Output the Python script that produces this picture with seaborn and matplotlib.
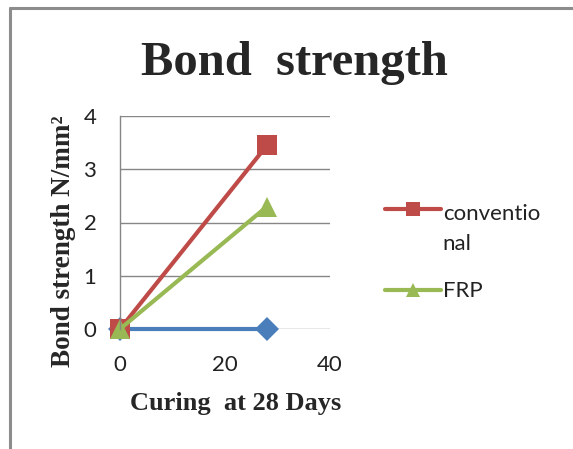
import matplotlib
matplotlib.use("Agg")
import matplotlib.pyplot as plt
from matplotlib.lines import Line2D
from matplotlib.legend_handler import HandlerLine2D
import seaborn as sns
import pandas as pd

# Curing time (days) and bond strength (N/mm²) for each specimen series
days = [0, 28]
control = [0.0, 0.0]
conventional = [0.0, 3.45]
frp = [0.0, 2.3]

x_ticks = [0, 20, 40]
y_ticks = [0, 1, 2, 3, 4]

sns.set_theme(style="white")
plt.rcParams["font.family"] = ["Lato", "DejaVu Sans"]


class FirstLineHandler(HandlerLine2D):
    """Legend handler that lifts the key to the first line of a wrapped label."""

    def __init__(self, lift, **kw):
        super().__init__(**kw)
        self.lift = lift

    def create_artists(self, legend, orig_handle, xdescent, ydescent,
                       width, height, fontsize, trans):
        return super().create_artists(legend, orig_handle, xdescent,
                                      ydescent - 2 * self.lift, width, height,
                                      fontsize, trans)


W, H = 573, 449
fig = plt.figure(figsize=(W / 100, H / 100), dpi=100)
ax = fig.add_axes([120 / W, 1 - 329 / H, 210 / W, 213 / H])

series = [
    (control, "#4A7EBB", "D", 12, None),
    (conventional, "#BE4B48", "s", 15, "conventio\nnal"),
    (frp, "#98B954", "^", 15, "FRP"),
]

handles = []
for values, color, marker, msize, label in series:
    df = pd.DataFrame({"day": days, "strength": values})
    sns.lineplot(data=df, x="day", y="strength", ax=ax, color=color,
                 linewidth=3, marker=marker, markersize=msize,
                 markeredgewidth=0, clip_on=False, legend=False)
    if label is not None:
        handles.append(Line2D([], [], color=color, linewidth=3, marker=marker,
                              markersize=10, markeredgewidth=0, label=label))

ax.set_xlim(0, 40)
ax.set_ylim(0, 4)
ax.set_xticks(x_ticks)
ax.set_yticks(y_ticks)
ax.yaxis.grid(True, color="#868686", linewidth=1)
ax.set_axisbelow(True)
for side in ("top", "right", "bottom"):
    ax.spines[side].set_visible(False)
ax.spines["left"].set_color("#868686")
ax.spines["left"].set_linewidth(1)
ax.tick_params(axis="both", labelsize=16, colors="#222222", length=0)
ax.tick_params(axis="x", pad=19)
ax.tick_params(axis="y", pad=17)
ax.set_xlabel("")
ax.set_ylabel("")

serif = "Liberation Serif"
fig.text(294 / W, 1 - 75 / H, "Bond  strength", ha="center", va="baseline",
         fontsize=35, fontweight="bold", family=serif)
fig.text(236 / W, 1 - 410 / H, "Curing  at 28 Days", ha="center", va="baseline",
         fontsize=19, fontweight="bold", family=serif)
fig.text(63 / W, 1 - 241 / H, "Bond strength N/mm²", ha="center", va="center",
         rotation=90, fontsize=19.5, fontweight="bold", family=serif)

leg = fig.legend(handles=handles, loc="upper left",
                 bbox_to_anchor=(385 / W, 1 - 204 / H), borderpad=0,
                 borderaxespad=0, frameon=False, fontsize=16,
                 handlelength=2.5, handletextpad=0.1, labelspacing=1.25,
                 labelcolor="#222222",
                 handler_map={handles[0]: FirstLineHandler(lift=14.5)})
for t in leg.get_texts():
    t.set_linespacing(1.6)

# outer chart frame (left and top edges)
frame = "#8c8c8c"
fig.add_artist(Line2D([9.5 / W, 9.5 / W], [0, 1 - 7.5 / H],
                      transform=fig.transFigure, color=frame, linewidth=2.2))
fig.add_artist(Line2D([9.5 / W, 1], [1 - 7.5 / H, 1 - 7.5 / H],
                      transform=fig.transFigure, color=frame, linewidth=2.2))

fig.savefig("out.png", dpi=100)
